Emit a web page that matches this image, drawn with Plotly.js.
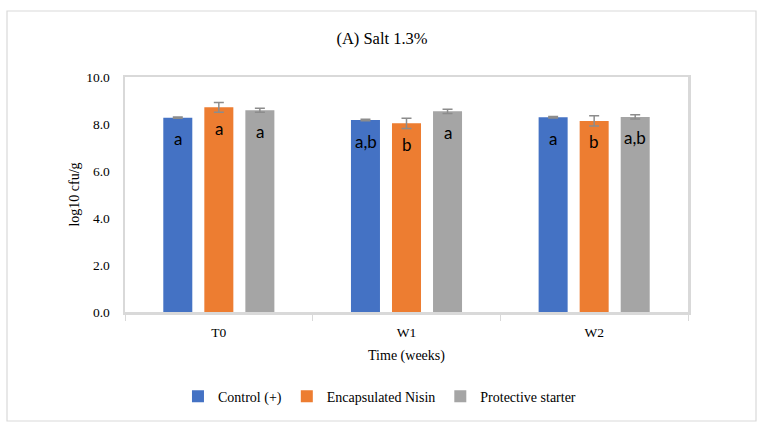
<!DOCTYPE html>
<html>
<head>
<meta charset="utf-8">
<script src="https://cdn.plot.ly/plotly-3.0.1.min.js"></script>
<style>html,body{margin:0;padding:0;background:#fff;}#chart{width:764px;height:428px;}</style>
</head>
<body>
<div id="chart"></div>
<script>
const categories = ["T0", "W1", "W2"];
const seriesNames = ["Control (+)", "Encapsulated Nisin", "Protective starter"];
const controlVals = [8.27, 8.17, 8.29];
const controlErr = [0.03, 0.03, 0.03];
const nisinVals = [8.71, 8.03, 8.13];
const nisinErr = [0.21, 0.22, 0.22];
const starterVals = [8.58, 8.54, 8.30];
const starterErr = [0.085, 0.09, 0.09];
const controlLetters = ["a", "a,b", "a"];
const nisinLetters = ["a", "b", "b"];
const starterLetters = ["a", "a", "a,b"];
const yTickVals = [0, 2, 4, 6, 8, 10];
const yTickText = ["0.0", "2.0", "4.0", "6.0", "8.0", "10.0"];

const colors = ["#4472C4", "#ED7D31", "#A5A5A5"];
const values = [controlVals, nisinVals, starterVals];
const errs = [controlErr, nisinErr, starterErr];
const letters = [controlLetters, nisinLetters, starterLetters];

const traces = values.map((v, i) => ({
  type: "bar",
  name: seriesNames[i],
  x: categories,
  y: v,
  marker: {color: colors[i]},
  error_y: {type: "data", array: errs[i], visible: true, color: "#8c8c8c", thickness: 1.5, width: 5},
  hoverinfo: "none"
}));

const serif = "Liberation Serif, DejaVu Serif, serif";
const annotations = [];
const shifts = [-41, 0, 41];
values.forEach((v, i) => {
  v.forEach((val, j) => {
    annotations.push({
      x: categories[j], y: val, xref: "x", yref: "y",
      text: letters[i][j], showarrow: false,
      xshift: shifts[i], yshift: -21, yanchor: "middle",
      font: {family: "Lato, Open Sans, sans-serif", size: 17, color: "#000"}
    });
  });
});

const layout = {
  width: 764, height: 428,
  margin: {l: 125, r: 76, t: 77, b: 116, pad: 0},
  paper_bgcolor: "#fff", plot_bgcolor: "#fff",
  title: {text: "(A) Salt 1.3%", x: 0.5, xref: "container", xanchor: "center", y: 0.91, yanchor: "middle",
          font: {family: serif, size: 16.5, color: "#000"}},
  barmode: "group", bargap: 0.344, bargroupgap: 0.293,
  showlegend: true,
  legend: {orientation: "h", x: 0.452, xanchor: "center", y: -0.36, yanchor: "middle",
           font: {family: serif, size: 14, color: "#000"}, itemwidth: 30, tracegroupgap: 0},
  xaxis: {
    type: "category",
    showline: true, mirror: true, linecolor: "#d9d9d9", linewidth: 2.5,
    ticks: "outside", tickson: "boundaries", ticklen: 6, tickcolor: "#d9d9d9", tickwidth: 1,
    showgrid: false,
    ticklabelstandoff: 6,
    tickfont: {family: serif, size: 13.5, color: "#000"},
    title: {text: "Time (weeks)", font: {family: serif, size: 14, color: "#000"}, standoff: 12}
  },
  yaxis: {
    range: [0, 10],
    tickvals: yTickVals, ticktext: yTickText,
    showline: true, mirror: true, linecolor: "#d9d9d9", linewidth: 2.5,
    showgrid: false, zeroline: false, ticks: "",
    ticklabelstandoff: 10,
    tickfont: {family: serif, size: 13.5, color: "#000"},
    title: {text: "log10 cfu/g", font: {family: serif, size: 14, color: "#000"}, standoff: 4}
  },
  annotations: annotations,
  shapes: [{
    type: "rect", xref: "paper", yref: "paper", layer: "below",
    x0: (7 - 125) / 563, x1: (756 - 125) / 563,
    y0: (312 - 421) / 235, y1: (312 - 11) / 235,
    line: {color: "#d9d9d9", width: 1.2}, fillcolor: "rgba(0,0,0,0)"
  }]
};

Plotly.newPlot("chart", traces, layout, {displayModeBar: false, staticPlot: true});
</script>
</body>
</html>
